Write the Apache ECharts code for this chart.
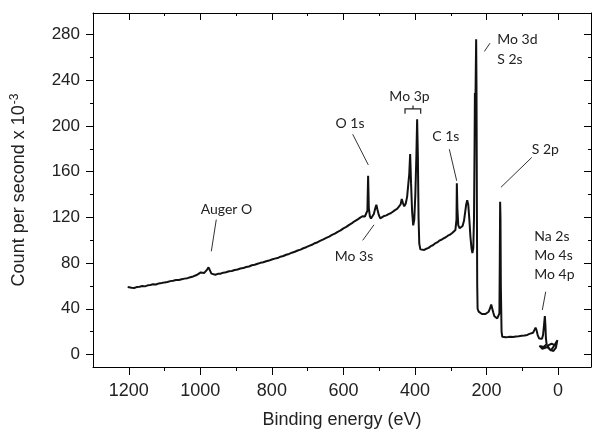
<!DOCTYPE html>
<html><head><meta charset="utf-8">
<script src="https://cdn.jsdelivr.net/npm/echarts@6/dist/echarts.min.js"></script>
<style>html,body{margin:0;padding:0;background:#fff}#c{width:593px;height:434px}</style>
</head><body><div id="c"></div>
<script>
// Binding energy (eV) and counts (x10^-3), in drawing order
const energy = [1203,1198,1192,1185,1178,1170,1162,1155,1147,1140,1132,1124,1116,1108,1100,1092,1084,1076,1068,1060,1052,1044,1036,1028,1020,1012,1005,999,994,989,985,981,977,973,969,964,958,951,944,936,928,920,912,904,896,888,880,872,864,856,848,840,832,824,816,808,800,792,784,776,768,760,752,744,736,728,720,712,704,696,688,680,672,664,656,648,640,632,624,616,608,600,592,584,576,568,560,553,547,543,540,536,533,531,529,526,523,519,515,511,508,505,501,497,492,486,480,474,468,462,456,450,445,440,437,434,430,426,422,419,416,413.5,411,408,405,402,399,396,394,392,390,388,385,380,374,368,362,356,350,344,338,332,326,320,314,308,302,296,291,287,284,283,281.5,279,275,271,267,263,260,257,254,251,248,245,242,239.5,237,235,233.5,232.5,231.5,230,229,228,227,226,225,222,218,213,208,203,198,194,190,187,184,181,178,174,170,166,164,163,162,161,160,158,156,152,146,140,133,126,118,110,102,94,86,80,75,70,66,63,60,57,53,49,45,42,39.5,37,35.5,34,32,40,52,44,30,20,10,2,6,13,22,30,18,9,3];
const counts = [59,57.6,58.4,58.2,59,59.3,59.9,59.6,60.5,60.8,61.4,61.2,62.2,62.6,63.1,63.4,64.2,64.6,65.1,65.2,65.9,66.4,66.8,67.6,68.3,69.3,70.6,71.8,72.3,71.4,72.4,74.3,76.3,74.6,70.8,69.4,69.8,70.6,70.7,71.6,72.0,72.8,73.1,73.9,74.4,75.3,75.6,76.6,77.0,78.1,78.5,79.4,80.2,80.7,81.6,82.2,83.1,83.9,84.4,85.6,86.2,87.3,88.0,89.1,89.9,91.0,91.8,93.0,93.9,95.1,96.0,97.4,98.3,99.7,100.8,102.1,103.2,104.7,105.8,107.4,108.6,110.4,111.7,113.5,115.0,116.8,118.3,119.8,121.0,122.5,120.8,121.8,126,156.5,128,121,119,120.5,123,128,131,127,122,119.2,119.8,121.3,121.8,122.9,123.6,125,126.4,127.5,129.4,131.5,136.2,133,129.7,132,138,148,158,175.5,150,125,113,118,140,175,206,175,120,97,92,91.2,91.5,92.6,93.3,94.8,95.6,97.2,98.1,99.6,100.4,101.7,102.6,104,104.9,106.3,107.4,109,118,150,128,113,110.5,111.2,112.5,117,124,131,135,131,118,103,93,88.8,93,120,180,229,205,250,276,230,130,60,40,37.5,36.2,35.4,35.2,35.4,36,37.4,40.5,43.8,42.5,36.5,33.5,32.2,31.5,32.5,36,80,133.6,120,60,20,15.5,14.8,15,15.2,15.5,15.3,15.8,16,16.3,16.6,17.1,18,18.6,19,21.5,23.5,21,17,14,13,13.8,17,25,33.6,26,14,9,6.5,7.5,5,6.5,3.5,8,12.5,6,3,4,7.5,9.5,8,11];

const xMajorTicks = [0,200,400,600,800,1000,1200];
const xMinorTicks = [100,300,500,700,900,1100];
const yMajorTicks = [0,40,80,120,160,200,240,280];
const yMinorTicks = [20,60,100,140,180,220,260];

// peak annotations: text, anchor [eV, count], alignment
const peakLabels = [
  {text:'Auger O', at:[927,126.6], align:'center'},
  {text:'Mo 3s', at:[570.5,85.7], align:'center'},
  {text:'O 1s', at:[581.6,202.3], align:'center'},
  {text:'Mo 3p', at:[415.3,226.1], align:'center'},
  {text:'C 1s', at:[313.9,191.3], align:'center'},
  {text:'Mo 3d', at:[169.9,276.1], align:'left'},
  {text:'S 2s', at:[169.9,258.7], align:'left'},
  {text:'S 2p', at:[35.7,179.1], align:'center'},
  {text:'Na 2s', at:[66.5,103.7], align:'left'},
  {text:'Mo 4s', at:[66.5,86.3], align:'left'},
  {text:'Mo 4p', at:[66.5,70], align:'left'}
];
const leaderLines = [
  [[955.4,118.1],[969.3,90.3]],
  [[546.1,99.9],[514.6,113.5]],
  [[574.1,192.8],[530.5,166]],
  [[304,179.7],[283.4,152.1]],
  [[190.3,272.6],[206.2,265.3]],
  [[73.7,172.5],[159.6,146.4]],
  [[34.6,54.9],[44.1,38.9]]
];
const mo3pBracket = [[427.9,210.8],[427.9,215.1],[405.5,215.1],[405.5,218],[405.5,215.1],[384,215.1],[384,210.8]];

const X_MIN = -92, X_MAX = 1300, Y_MIN = -11, Y_MAX = 299;
const AX = '#000';
const TXT = '#222';
const FONT = 'Liberation Sans';

function xAx(pos, ticks, len, inside, line, labels) {
  return {
    type:'value', position:pos, min:X_MIN, max:X_MAX, inverse:true,
    splitLine:{show:false},
    axisLine:{show:line, onZero:false, lineStyle:{color:AX, width:1}},
    axisTick:{show:true, inside:inside, length:len, customValues:ticks, lineStyle:{color:AX, width:1}},
    axisLabel:{show:labels, customValues:ticks, margin:15, color:TXT, fontSize:18, fontFamily:FONT,
      formatter:v=>String(v)},
    name: labels ? 'Binding energy (eV)' : '',
    nameLocation:'middle', nameGap:44,
    nameTextStyle:{fontSize:18, color:TXT, fontFamily:FONT}
  };
}
function yAx(pos, ticks, len, inside, line, labels) {
  return {
    type:'value', position:pos, min:Y_MIN, max:Y_MAX,
    splitLine:{show:false},
    axisLine:{show:line, onZero:false, lineStyle:{color:AX, width:1}},
    axisTick:{show:true, inside:inside, length:len, customValues:ticks, lineStyle:{color:AX, width:1}},
    axisLabel:{show:labels, customValues:ticks, margin:13, color:TXT, fontSize:17, fontFamily:FONT,
      formatter:v=>String(v)},
    name: labels ? 'Count per second x 10{sup|-3}' : '',
    nameLocation:'middle', nameGap:64, nameRotate:90,
    nameTextStyle:{fontSize:18, color:TXT, fontFamily:FONT,
      rich:{sup:{fontSize:12, color:TXT, fontFamily:FONT, verticalAlign:'top', padding:[0,0,8,1]}}}
  };
}

const chart = echarts.init(document.getElementById('c'), null, {renderer:'canvas'});
chart.setOption({
  animation:false,
  backgroundColor:'#fff',
  grid:{left:93, right:2, top:13, bottom:65, containLabel:false},
  xAxis:[
    xAx('bottom', xMajorTicks, 8, false, true, true),
    xAx('bottom', xMinorTicks, 4, false, false, false),
    xAx('top', xMajorTicks, 7, true, true, false),
    xAx('top', xMinorTicks, 3, true, false, false)
  ],
  yAxis:[
    yAx('left', yMajorTicks, 7, false, true, true),
    yAx('left', yMinorTicks, 3, false, false, false),
    yAx('right', yMajorTicks, 7, true, true, false),
    yAx('right', yMinorTicks, 3, true, false, false)
  ],
  series:[{
    type:'line', xAxisIndex:0, yAxisIndex:0,
    data: energy.map((e,i)=>[e, counts[i]]),
    showSymbol:false, symbol:'none', smooth:false,
    lineStyle:{color:'#111', width:2},
    z:3
  }]
});

function px(p){ return chart.convertToPixel({seriesIndex:0}, p); }
const g = [];
peakLabels.forEach(l=>{
  const p = px(l.at);
  g.push({type:'text', x:p[0], y:p[1], z:10, style:{text:l.text, fill:TXT, font:'14px Lato', textAlign:l.align, textVerticalAlign:'middle'}});
});
leaderLines.forEach(s=>{
  const a = px(s[0]), b = px(s[1]);
  g.push({type:'line', z:10, shape:{x1:a[0],y1:a[1],x2:b[0],y2:b[1]}, style:{stroke:'#333', lineWidth:1}});
});
g.push({type:'polyline', z:10, shape:{points:mo3pBracket.map(px)}, style:{stroke:'#222', lineWidth:1.2, fill:null}});
chart.setOption({graphic:g});
</script>
</body></html>
